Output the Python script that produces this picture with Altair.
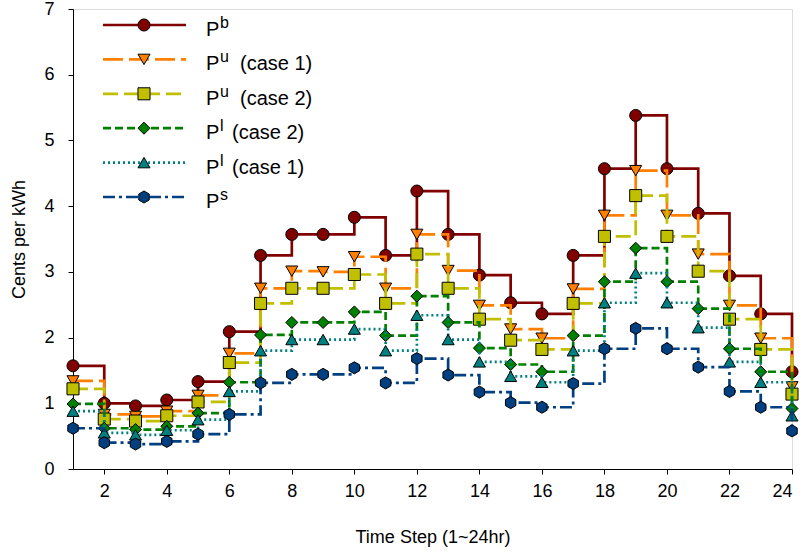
import altair as alt
import pandas as pd

# ---------------- data ----------------
hours = list(range(1, 25))
p_b   = [1.57, 1.00, 0.96, 1.05, 1.33, 2.09, 3.25, 3.57, 3.57, 3.83, 3.25, 4.23,
         3.57, 2.95, 2.53, 2.36, 3.25, 4.57, 5.38, 4.57, 3.89, 2.94, 2.36, 1.48]
p_u1  = [1.34, 0.83, 0.80, 0.88, 1.12, 1.76, 2.75, 3.01, 3.00, 3.23, 2.75, 3.57,
         3.02, 2.49, 2.13, 1.99, 2.74, 3.86, 4.54, 3.86, 3.27, 2.49, 1.99, 1.25]
p_u2  = [1.22, 0.76, 0.73, 0.81, 1.02, 1.62, 2.52, 2.75, 2.75, 2.96, 2.52, 3.27,
         2.75, 2.28, 1.96, 1.82, 2.52, 3.54, 4.16, 3.54, 3.01, 2.28, 1.82, 1.14]
p_l2  = [0.99, 0.62, 0.60, 0.65, 0.85, 1.32, 2.04, 2.23, 2.23, 2.39, 2.03, 2.63,
         2.23, 1.84, 1.59, 1.48, 2.03, 2.85, 3.36, 2.85, 2.44, 1.83, 1.48, 0.92]
p_l1  = [0.88, 0.55, 0.52, 0.59, 0.75, 1.18, 1.80, 1.97, 1.97, 2.13, 1.80, 2.34,
         1.97, 1.63, 1.41, 1.32, 1.80, 2.53, 2.98, 2.53, 2.15, 1.63, 1.32, 0.81]
p_s   = [0.62, 0.40, 0.38, 0.42, 0.53, 0.83, 1.31, 1.44, 1.44, 1.54, 1.31, 1.68,
         1.43, 1.17, 1.01, 0.94, 1.30, 1.83, 2.14, 1.83, 1.55, 1.18, 0.94, 0.58]

x_ticks = list(range(2, 25, 2))
y_ticks = list(range(0, 8))

# legend text pieces: (main, superscript, suffix)
legend_text = [("P", "b", ""), ("P", "u", "(case 1)"), ("P", "u", "(case 2)"),
               ("P", "l", "(case 2)"), ("P", "l", "(case 1)"), ("P", "s", "")]

HEX = "M0,-1L0.866,-0.5L0.866,0.5L0,1L-0.866,0.5L-0.866,-0.5Z"
styles = [
    # values, color, dash, shape
    (p_b,  "#800000", [1, 0],        "circle"),
    (p_u1, "#FF8000", [20, 6],       "triangle-down"),
    (p_u2, "#C0C000", [15, 6],       "square"),
    (p_l2, "#008000", [8, 4],        "diamond"),
    (p_l1, "#008080", [2, 3],        "triangle-up"),
    (p_s,  "#004080", [12, 4, 3, 4], HEX),
]

FONT = "Liberation Sans"
PLOT_W, PLOT_H = 719, 460
MSIZE = 145

x_scale = alt.Scale(domain=[1, 24], nice=False, zero=False)
y_scale = alt.Scale(domain=[0, 7], nice=False)

x_axis = alt.Axis(values=x_ticks, title="Time Step (1~24hr)", grid=False,
                  labelFontSize=18, titleFontSize=18, titleFontWeight="normal",
                  labelFont=FONT, titleFont=FONT, tickSize=5, labelPadding=8,
                  titlePadding=28, domainColor="black", tickColor="black",
                  labelColor="black", titleColor="black")
y_axis = alt.Axis(values=y_ticks, title="Cents per kWh", grid=False,
                  labelFontSize=18, titleFontSize=18, titleFontWeight="normal",
                  labelFont=FONT, titleFont=FONT, tickSize=5, labelPadding=14,
                  titleX=-45, domainColor="black", tickColor="black",
                  labelColor="black", titleColor="black")

layers = []
one = pd.DataFrame({"d": [0]})
for i, (vals, color, dash, shape) in enumerate(styles):
    df = pd.DataFrame({"x": hours, "y": vals})
    base = alt.Chart(df)
    enc = dict(x=alt.X("x:Q", scale=x_scale, axis=x_axis),
               y=alt.Y("y:Q", scale=y_scale, axis=y_axis))
    line = base.mark_line(interpolate="step-after", color=color, strokeWidth=2.7,
                          strokeDash=dash).encode(**enc)
    pts = base.mark_point(shape=shape, filled=True, fill=color, stroke="black",
                          strokeWidth=1, size=MSIZE, opacity=1).encode(**enc)
    layers += [line, pts]

# manual legend (inside the plot, top left)
for i, (vals, color, dash, shape) in enumerate(styles):
    yy = 16 + i * 34.4
    main, sup, suffix = legend_text[i]
    lb = alt.Chart(one)
    layers.append(lb.mark_rule(color=color, strokeWidth=2.7, strokeDash=dash).encode(
        x=alt.value(30), x2=alt.value(113), y=alt.value(yy)))
    layers.append(lb.mark_point(shape=shape, filled=True, fill=color, stroke="black",
                                strokeWidth=1, size=MSIZE, opacity=1).encode(
        x=alt.value(71), y=alt.value(yy)))
    layers.append(lb.mark_text(align="left", baseline="alphabetic", fontSize=20,
                               font=FONT, color="black").encode(
        x=alt.value(133), y=alt.value(yy + 11), text=alt.value(main)))
    layers.append(lb.mark_text(align="left", baseline="alphabetic", fontSize=16,
                               font=FONT, color="black").encode(
        x=alt.value(147), y=alt.value(yy + 3), text=alt.value(sup)))
    if suffix:
        sx = 167 if sup == "u" else 159
        layers.append(lb.mark_text(align="left", baseline="alphabetic", fontSize=20,
                                   font=FONT, color="black").encode(
            x=alt.value(sx), y=alt.value(yy + 11), text=alt.value(suffix)))

chart = alt.layer(*layers).properties(
    width=PLOT_W, height=PLOT_H,
    autosize=alt.AutoSizeParams(type="none"),
    padding={"left": 73, "top": 9, "right": 12, "bottom": 88},
).configure_view(stroke="black", strokeWidth=1).configure(background="white")

chart.save("out.html", embed_options={"renderer": "svg", "actions": False})
